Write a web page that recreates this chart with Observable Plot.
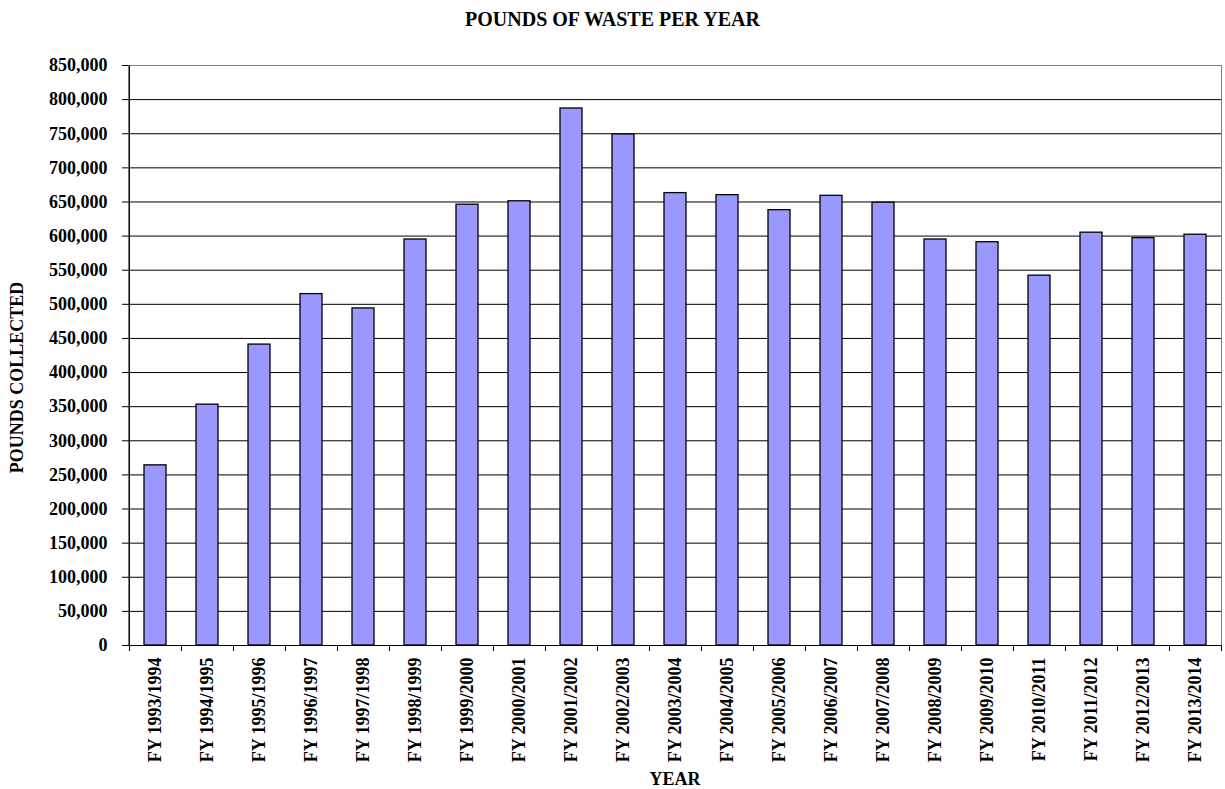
<!DOCTYPE html>
<html>
<head>
<meta charset="utf-8">
<script src="https://cdn.jsdelivr.net/npm/d3@7"></script>
<script src="https://cdn.jsdelivr.net/npm/@observablehq/plot@0.6"></script>
<style>
  html, body { margin: 0; padding: 0; background: #fff; }
  #title { width: 1225px; height: 40px; line-height: 39px; text-align: center;
           font-family: "Liberation Serif", "Times New Roman", serif; font-weight: bold; font-size: 20px; color: #000; }
  svg { display: block; }
</style>
</head>
<body>
<div id="title">POUNDS OF WASTE PER YEAR</div>
<div id="chart"></div>
<script>
const years = [
  "FY 1993/1994", "FY 1994/1995", "FY 1995/1996", "FY 1996/1997", "FY 1997/1998",
  "FY 1998/1999", "FY 1999/2000", "FY 2000/2001", "FY 2001/2002", "FY 2002/2003",
  "FY 2003/2004", "FY 2004/2005", "FY 2005/2006", "FY 2006/2007", "FY 2007/2008",
  "FY 2008/2009", "FY 2009/2010", "FY 2010/2011", "FY 2011/2012", "FY 2012/2013",
  "FY 2013/2014"
];
const pounds = [
  264000, 353000, 441000, 515000, 494000,
  595000, 646000, 651000, 787000, 749000,
  663000, 660000, 638000, 659000, 649000,
  595000, 591000, 542000, 605000, 597000,
  602000
];
const yTicks = d3.range(0, 850001, 50000);
const gridTicks = yTicks.filter(v => v > 0 && v < 850000);

const data = years.map((y, i) => ({year: y, value: pounds[i]}));

const W = 1225, H = 749, mL = 128, mR = 4, mT = 25, mB = 144;
const step = (W - mL - mR) / years.length;
const plotH = H - mT - mB;
const font = "'Liberation Serif', 'Times New Roman', serif";

const chart = Plot.plot({
  width: W,
  height: H,
  marginLeft: mL,
  marginRight: mR,
  marginTop: mT,
  marginBottom: mB,
  style: {fontFamily: font, fontWeight: "bold", fontSize: "18px", color: "#000", background: "#fff", overflow: "visible"},
  x: {domain: years, paddingInner: 0.583, paddingOuter: 0.2915, label: null},
  y: {domain: [0, 850000], label: null},
  marks: [
    Plot.frame({stroke: "#808080", strokeWidth: 1}),
    Plot.ruleY(gridTicks, {stroke: "#000", strokeWidth: 1}),
    Plot.barY(data, {x: "year", y: "value", fill: "#9999FF", stroke: "#000", strokeWidth: 1.3}),
    Plot.axisY({ticks: yTicks, tickFormat: d3.format(","), tickSize: 6, tickPadding: 15, stroke: "#000", fontSize: 18, fontWeight: "bold", label: null}),
    Plot.ruleX([0], {x: () => years[0], dx: -step / 2, stroke: "#000", insetBottom: -6}),
    Plot.ruleY([0], {stroke: "#000"}),
    Plot.ruleX(years, {x: d => d, dx: -step / 2, stroke: "#000", insetTop: plotH, insetBottom: -6}),
    Plot.ruleX([years[years.length - 1]], {x: d => d, dx: step / 2, stroke: "#000", insetTop: plotH, insetBottom: -6}),
    Plot.axisX({tickSize: 0, tickPadding: 12, tickRotate: -90, fontSize: 18, fontWeight: "bold", label: null}),
    Plot.text(["POUNDS COLLECTED"], {frameAnchor: "left", textAnchor: "middle", lineAnchor: "middle", dx: -111, dy: 22, rotate: -90, fontSize: 18, fontWeight: "bold", fill: "#000"}),
    Plot.text(["YEAR"], {frameAnchor: "bottom", textAnchor: "middle", lineAnchor: "middle", dy: 134, fontSize: 18, fontWeight: "bold", fill: "#000"})
  ]
});
document.getElementById("chart").appendChild(chart);
</script>
</body>
</html>
